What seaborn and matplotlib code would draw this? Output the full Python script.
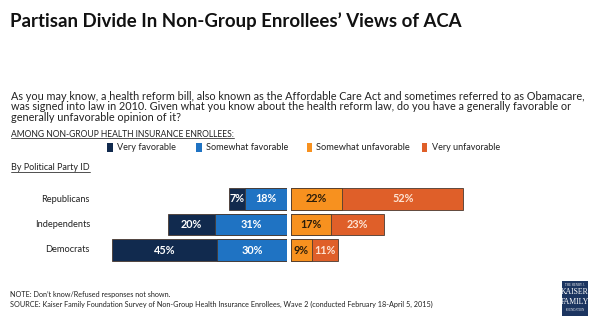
import matplotlib
matplotlib.use("Agg")
import matplotlib.pyplot as plt
from matplotlib.patches import Rectangle
from matplotlib.lines import Line2D
import seaborn as sns
import pandas as pd

sns.set_theme(style="white")
plt.rcParams["font.family"] = ["Lato", "DejaVu Sans"]

# Survey results (percent)
parties = ["Republicans", "Independents", "Democrats"]
very_fav = [7, 20, 45]
some_fav = [18, 31, 30]
some_unfav = [22, 17, 9]
very_unfav = [52, 23, 11]

categories = ["Very favorable", "Somewhat favorable",
              "Somewhat unfavorable", "Very unfavorable"]
colors = ["#112a4e", "#1f73c3", "#f7911f", "#df5f29"]
label_colors = ["white", "white", "#2b1d0a", "#fde3d3"]

title = "Partisan Divide In Non-Group Enrollees\u2019 Views of ACA"
question = [
    "As you may know, a health reform bill, also known as the Affordable Care Act and sometimes referred to as Obamacare,",
    "was signed into law in 2010. Given what you know about the health reform law, do you have a generally favorable or",
    "generally unfavorable opinion of it?",
]
subhead = "AMONG NON-GROUP HEALTH INSURANCE ENROLLEES:"
group_head = "By Political Party ID"
notes = [
    "NOTE: Don\u2019t know/Refused responses not shown.",
    "SOURCE: Kaiser Family Foundation Survey of Non-Group Health Insurance Enrollees, Wave 2 (conducted February 18-April 5, 2015)",
]

W, H = 605, 326
fig = plt.figure(figsize=(W / 100, H / 100), dpi=100)
fig.patch.set_facecolor("white")
renderer = fig.canvas.get_renderer()


def fx(x):
    return x / W


def fy(y):
    return 1 - y / H


def fit(t, width_px):
    """Rescale a text's font so its rendered width equals width_px."""
    for _ in range(3):
        w = t.get_window_extent(renderer).width
        t.set_fontsize(t.get_fontsize() * width_px / w)
    return t.get_fontsize()


df = pd.DataFrame({"party": parties, "vf": very_fav, "sf": some_fav,
                   "su": some_unfav, "vu": very_unfav})
df["fav_total"] = df["vf"] + df["sf"]
df["unfav_total"] = df["su"] + df["vu"]

scale = 2.33  # pixels per percentage point
span = 80
row = 25.5
top_px = 199 - row / 2
ax_h = 3 * row / H
ax_bottom = fy(top_px + 3 * row)

axL = fig.add_axes([fx(287 - span * scale), ax_bottom, fx(span * scale), ax_h])
axR = fig.add_axes([fx(291), ax_bottom, fx(span * scale), ax_h])

edge = dict(edgecolor="#4a3a30", linewidth=0.6, saturation=1, width=0.86, orient="h")
sns.barplot(data=df, x="fav_total", y="party", color=colors[0], ax=axL, **edge)
sns.barplot(data=df, x="sf", y="party", color=colors[1], ax=axL, **edge)
sns.barplot(data=df, x="unfav_total", y="party", color=colors[3], ax=axR, **edge)
sns.barplot(data=df, x="su", y="party", color=colors[2], ax=axR, **edge)

axL.set_xlim(span, 0)
axR.set_xlim(0, span)
for ax in (axL, axR):
    ax.set_ylim(2.5, -0.5)
    ax.set_xlabel("")
    ax.set_ylabel("")
    ax.set_xticks([])
    ax.set_yticks([])
    ax.set_facecolor("none")
    for s in ax.spines.values():
        s.set_visible(False)

lab = dict(ha="center", va="center", fontsize=7.8, fontweight="bold")
for i in range(3):
    axL.text(df["sf"][i] + df["vf"][i] / 2, i, f"{very_fav[i]}%", color=label_colors[0], **lab)
    axL.text(df["sf"][i] / 2, i, f"{some_fav[i]}%", color=label_colors[1], **lab)
    axR.text(df["su"][i] / 2, i, f"{some_unfav[i]}%", color=label_colors[2], **lab)
    axR.text(df["su"][i] + df["vu"][i] / 2, i, f"{very_unfav[i]}%", color=label_colors[3], **lab)

party_texts = [fig.text(fx(90), fy(top_px + (i + 0.5) * row), p, ha="right", va="center",
                        fontsize=7.5, color="#222222") for i, p in enumerate(parties)]
size = fit(party_texts[0], 49)
for t in party_texts[1:]:
    t.set_fontsize(size)

# Header texts
t = fig.text(fx(10), fy(21), title, fontsize=14, fontweight="bold", color="#111111",
             ha="left", va="center")
fit(t, 452)

q_texts = [fig.text(fx(11), fy(96 + k * 10.8), line, fontsize=7.5, color="#222222",
                    ha="left", va="center") for k, line in enumerate(question)]
size = fit(q_texts[0], 579)
for t in q_texts[1:]:
    t.set_fontsize(size)

underlined = [
    fig.text(fx(11), fy(134), subhead, fontsize=7, color="#222222", ha="left", va="center"),
    fig.text(fx(11), fy(168), group_head, fontsize=7, color="#222222", ha="left", va="center"),
]
fit(underlined[0], 225)
fit(underlined[1], 80)

# Legend
leg_x = [107, 196, 307, 422]
leg_w = [59, 83, 94, 68]
for cx, c, name, w in zip(leg_x, colors, categories, leg_w):
    fig.patches.append(Rectangle((fx(cx), fy(152)), fx(5.5), 9 / H, transform=fig.transFigure,
                                 facecolor=c, edgecolor="none"))
    t = fig.text(fx(cx + 9.5), fy(147.5), name, fontsize=7.2, color="#222222",
                 ha="left", va="center")
    fit(t, w)

n_texts = [fig.text(fx(10), fy(295 + k * 9.5), line, fontsize=5.5, color="#222222",
                    ha="left", va="center") for k, line in enumerate(notes)]
size = fit(n_texts[1], 423)
n_texts[0].set_fontsize(size)

# Foundation logo
fig.patches.append(Rectangle((fx(562), fy(316)), fx(26), 35 / H, transform=fig.transFigure,
                             facecolor="#1c3560", edgecolor="none"))
fig.text(fx(575), fy(284.5), "THE HENRY J.", fontsize=2.2, color="white", ha="center",
         va="center", family=["Liberation Serif"])
fig.text(fx(575), fy(292.5), "KAISER", fontsize=5.6, color="white", ha="center",
         va="center", family=["Liberation Serif"])
fig.text(fx(575), fy(301.5), "FAMILY", fontsize=5.6, color="white", ha="center",
         va="center", family=["Liberation Serif"])
fig.text(fx(575), fy(310), "FOUNDATION", fontsize=2.2, color="white", ha="center",
         va="center", family=["Liberation Serif"])

# Underlines beneath section headings
for t in underlined:
    bb = t.get_window_extent(renderer)
    y = bb.y0 + 0.5
    fig.lines.append(Line2D([bb.x0 / W, bb.x1 / W], [y / H, y / H], transform=fig.transFigure,
                            color="#333333", linewidth=0.6))

fig.savefig("out.png", dpi=100, facecolor="white")
